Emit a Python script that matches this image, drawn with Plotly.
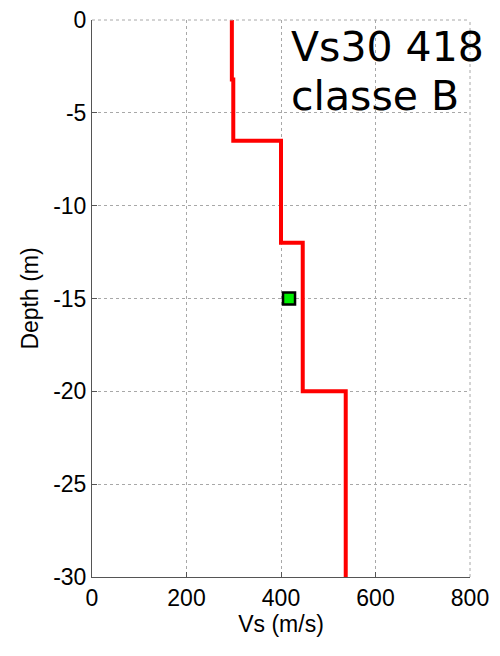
import plotly.graph_objects as go

# Step profile: Vs (m/s) vs depth (m)
vs_profile = [296, 296, 299, 299, 400, 400, 446, 446, 537, 537]
depth_profile = [0, -3.2, -3.2, -6.5, -6.5, -12, -12, -20, -20, -30]

vs30_value = [417]
vs30_depth = [-15]

x_ticks = [0, 200, 400, 600, 800]
y_ticks = [0, -5, -10, -15, -20, -25, -30]

fig = go.Figure()
fig.add_trace(go.Scatter(
    x=vs_profile, y=depth_profile, mode="lines",
    line=dict(color="#ff0000", width=4), showlegend=False, cliponaxis=False,
))
fig.add_trace(go.Scatter(
    x=vs30_value, y=vs30_depth, mode="markers",
    marker=dict(symbol="square", size=12, color="#00ee00",
                line=dict(color="black", width=2.5)),
    showlegend=False,
))

fig.add_annotation(x=0.52, y=0.998, xref="paper", yref="paper",
                   text="Vs30 418", showarrow=False, xanchor="left", yanchor="top",
                   font=dict(family="DejaVu Sans", size=41, color="black"))
fig.add_annotation(x=0.52, y=0.910, xref="paper", yref="paper",
                   text="classe B", showarrow=False, xanchor="left", yanchor="top",
                   font=dict(family="DejaVu Sans", size=41, color="black"))

axis_font = dict(family="Liberation Sans, Arial", size=23, color="black")
fig.update_xaxes(
    range=[0, 800], tickvals=x_ticks, ticktext=[str(v) for v in x_ticks],
    showgrid=True, gridcolor="#a8a8a8", griddash="dot", gridwidth=1,
    showline=True, linecolor="#555555", linewidth=1, mirror=False,
    ticks="inside", ticklen=5, tickcolor="#555555",
    zeroline=False, tickfont=axis_font, automargin=False,
    ticklabeloverflow="allow",
    title=dict(text="Vs (m/s)", font=axis_font, standoff=6),
)
fig.update_yaxes(
    range=[-30, 0], tickvals=y_ticks, ticktext=[str(v) for v in y_ticks],
    showgrid=True, gridcolor="#a8a8a8", griddash="dot", gridwidth=1,
    showline=True, linecolor="#555555", linewidth=1, mirror=False,
    ticks="inside", ticklen=5, tickcolor="#555555",
    zeroline=False, tickfont=axis_font, automargin=False,
    ticklabeloverflow="allow",
    title=dict(text="Depth (m)", font=axis_font, standoff=8),
)
fig.update_layout(
    width=492, height=648,
    margin=dict(l=84, r=30, t=12, b=79, autoexpand=False),
    plot_bgcolor="white", paper_bgcolor="white",
    shapes=[
        dict(type="line", xref="paper", yref="paper", x0=0, x1=1, y0=1, y1=1,
             line=dict(color="#a8a8a8", width=1, dash="dot")),
        dict(type="line", xref="paper", yref="paper", x0=1, x1=1, y0=0, y1=1,
             line=dict(color="#a8a8a8", width=1, dash="dot")),
    ],
)
fig.write_html("out.html")
